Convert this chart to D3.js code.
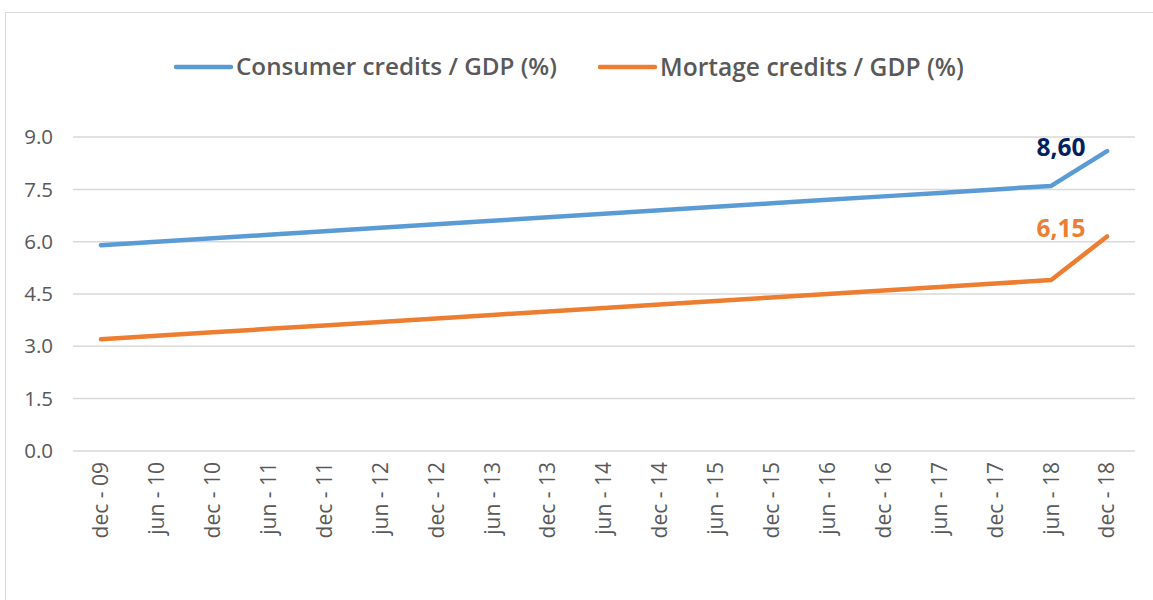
<!DOCTYPE html>
<html>
<head>
<meta charset="utf-8">
<script src="https://cdn.jsdelivr.net/npm/d3@7"></script>
<style>
  body { margin: 0; background: #fff; }
  svg { display: block; font-family: "Open Sans", sans-serif; }
</style>
</head>
<body>
<script>
// categories (half-years)
const periods = ['dec - 09', 'jun - 10', 'dec - 10', 'jun - 11', 'dec - 11', 'jun - 12', 'dec - 12',
  'jun - 13', 'dec - 13', 'jun - 14', 'dec - 14', 'jun - 15', 'dec - 15', 'jun - 16', 'dec - 16',
  'jun - 17', 'dec - 17', 'jun - 18', 'dec - 18'];

// values
const consumer = [5.9, 6.0, 6.1, 6.2, 6.3, 6.4, 6.5, 6.6, 6.7, 6.8, 6.9, 7.0, 7.1, 7.2, 7.3, 7.4, 7.5, 7.6, 8.6];
const mortgage = [3.2, 3.3, 3.4, 3.5, 3.6, 3.7, 3.8, 3.9, 4.0, 4.1, 4.2, 4.3, 4.4, 4.5, 4.6, 4.7, 4.8, 4.9, 6.15];

const yTicks = [0, 1.5, 3, 4.5, 6, 7.5, 9];
const seriesNames = ['Consumer credits / GDP (%)', 'Mortage credits / GDP (%)'];
const endLabels = ['8,60', '6,15'];
</script>
<script>
const draw = () => {
    let w = 1153, h = 600;

    let series = [
        { name: seriesNames[0], values: consumer, color: '#5b9bd5', labelColor: '#002060', end: endLabels[0], dy: 5 },
        { name: seriesNames[1], values: mortgage, color: '#ed7d31', labelColor: '#ed7d31', end: endLabels[1], dy: 1 }
    ];

    let svg = d3.select('body').append('svg')
        .attr('width', w)
        .attr('height', h);

    // chart frame (runs off the right and bottom edges)
    svg.append('rect')
        .attr('x', 5.5).attr('y', 12.5)
        .attr('width', 1200).attr('height', 700)
        .attr('fill', 'none')
        .attr('stroke', '#d9d9d9')
        .attr('stroke-width', 1);

    let x = d3.scalePoint()
        .domain(periods)
        .range([73, 1135])
        .padding(0.5);

    let y = d3.scaleLinear()
        .domain([0, 9])
        .range([450.9, 137.1]);

    // gridlines
    svg.append('g')
        .selectAll('line')
        .data(yTicks)
        .enter()
        .append('line')
        .attr('x1', 73).attr('x2', 1135)
        .attr('y1', d => y(d)).attr('y2', d => y(d))
        .attr('stroke', '#d9d9d9')
        .attr('stroke-width', 1.5);

    // y axis labels
    svg.append('g')
        .selectAll('text')
        .data(yTicks)
        .enter()
        .append('text')
        .attr('x', 53)
        .attr('y', d => y(d))
        .attr('dy', '0.35em')
        .attr('text-anchor', 'end')
        .attr('fill', '#595959')
        .attr('font-size', 20.5)
        .text(d => d.toFixed(1));

    // x axis labels, rotated
    svg.append('g')
        .selectAll('text')
        .data(periods)
        .enter()
        .append('text')
        .attr('transform', d => `translate(${x(d)},462) rotate(-90)`)
        .attr('dy', '0.35em')
        .attr('text-anchor', 'end')
        .attr('fill', '#595959')
        .attr('font-size', 21)
        .text(d => d);

    // lines
    let line = d3.line()
        .x((d, i) => x(periods[i]))
        .y(d => y(d));

    svg.append('g')
        .selectAll('path')
        .data(series)
        .enter()
        .append('path')
        .attr('d', d => line(d.values))
        .attr('fill', 'none')
        .attr('stroke', d => d.color)
        .attr('stroke-width', 4.5)
        .attr('stroke-linejoin', 'round')
        .attr('stroke-linecap', 'round');

    // value labels at the last point
    let last = periods.length - 1;
    svg.append('g')
        .selectAll('text')
        .data(series)
        .enter()
        .append('text')
        .attr('x', x(periods[last]) - 46)
        .attr('y', d => y(d.values[last]) + d.dy)
        .attr('text-anchor', 'middle')
        .attr('fill', d => d.labelColor)
        .attr('font-size', 24.5)
        .attr('font-weight', 700)
        .text(d => d.end);

    // legend
    let legendX = [176, 600];
    let legendW = [321, 304];
    let legend = svg.append('g')
        .selectAll('g')
        .data(series)
        .enter()
        .append('g')
        .attr('transform', (d, i) => `translate(${legendX[i]},67)`);

    legend.append('line')
        .attr('x1', 0).attr('x2', 55)
        .attr('stroke', d => d.color)
        .attr('stroke-width', 4.5)
        .attr('stroke-linecap', 'round');

    legend.append('text')
        .attr('x', 60)
        .attr('dy', '0.35em')
        .attr('fill', '#595959')
        .attr('font-weight', 600)
        .attr('font-size', 22)
        .text(d => d.name)
        .each(function(d, i) {
            // scale the font so the label fits its width in the picture
            let len = this.getComputedTextLength();
            let fs = 22 * legendW[i] / len;
            d3.select(this).attr('font-size', fs);
        });
}

draw()
</script>
</body>
</html>
